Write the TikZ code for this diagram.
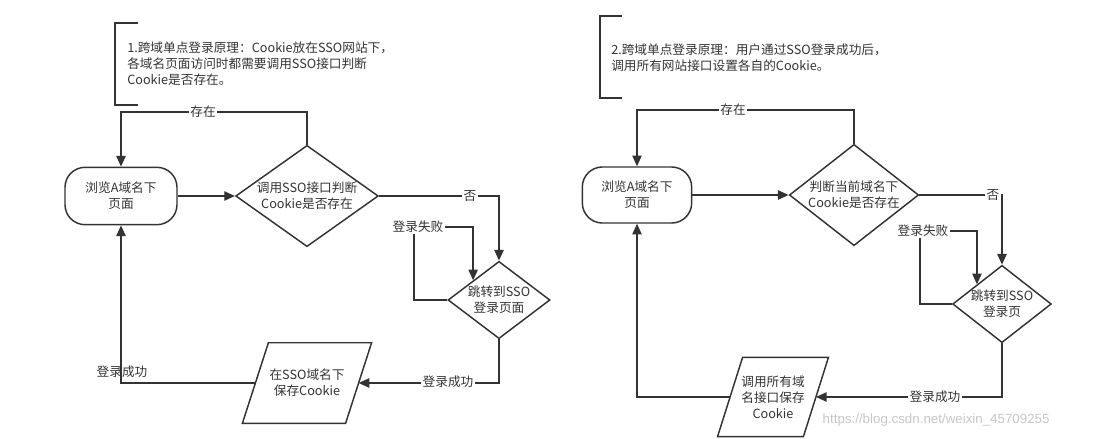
\documentclass[tikz,border=0pt]{standalone}
\usepackage{fontspec}
\setmainfont{Noto Sans CJK SC}
\newfontfamily\wmfont{Liberation Sans}
\usetikzlibrary{shapes.geometric,arrows.meta,calc}
\definecolor{ln}{HTML}{333333}
\definecolor{tx}{HTML}{333333}
\begin{document}
\begin{tikzpicture}[x=0.75pt,y=-0.75pt,
  every node/.style={font=\fontsize{9.5pt}{12pt}\selectfont,text=tx},
  shp/.style={draw=ln,line width=1.1pt,inner sep=0pt},
  rr/.style={shp,rectangle,rounded corners=15pt},
  dia/.style={shp,diamond},
  pbox/.style={rectangle,inner sep=0pt},
  txt/.style={align=center,inner sep=0pt},
  lab/.style={fill=white,inner sep=1pt},
  con/.style={draw=ln,line width=1.1pt},
  arr/.style={con,-{Triangle[length=8pt,width=7pt]}},
  brk/.style={draw=ln,line width=1.1pt}]
\useasboundingbox (0,0) rectangle (1108,439);
% ---------- left diagram ----------
\coordinate (b1a) at (138,23); \coordinate (b1b) at (115,23);
\coordinate (b1c) at (115,105); \coordinate (b1d) at (138,105);
\draw[brk] (b1a) -- (b1b) -- (b1c) -- (b1d);
\node[txt,anchor=west,align=left] (n1) at (127,64) {1.跨域单点登录原理：Cookie放在SSO网站下，\\各域名页面访问时都需要调用SSO接口判断\\Cookie是否存在。};
\node[rr,minimum width=84pt,minimum height=43pt] (r1) at (121,196) {};
\node[txt] (r1t) at (r1) {浏览A域名下\\页面};
\node[dia,minimum width=107pt,minimum height=76pt] (d1) at (307,196) {};
\node[txt] (d1t) at (d1) {调用SSO接口判断\\Cookie是否存在};
\node[dia,minimum width=76.5pt,minimum height=58pt] (d2) at (499,300) {};
\node[txt] (d2t) at (d2) {跳转到SSO\\登录页面};
\node[pbox,minimum width=77pt,minimum height=60pt] (p1) at (307,383) {};
\draw[con] ($(p1.north west)+(13,0)$) -- ($(p1.north east)+(13,0)$) -- ($(p1.south east)+(-13,0)$) -- ($(p1.south west)+(-13,0)$) -- cycle;
\node[txt] (p1t) at (p1) {在SSO域名下\\保存Cookie};
\coordinate (t1) at (307,112);
\coordinate (f1a) at (414,300); \coordinate (f1b) at (414,227);
\draw[arr] (r1) -- (d1);
\draw[arr] (d1.north) -- (t1) -| (r1.north);
\node[lab] (l1) at (203,112) {存在};
\draw[arr] (d1.east) -| (d2.north);
\node[lab] (l2) at (470,196) {否};
\draw[arr] (d2.west) -- (f1a) -- (f1b) -| (d2.north west);
\node[lab] (l3) at (418,227) {登录失败};
\draw[arr] (d2.south) |- (p1.east);
\node[lab] (l4) at (448,382) {登录成功};
\draw[arr] (p1.west) -| (r1.south);
\node (l5) at (122,372) {登录成功};
% ---------- right diagram ----------
\coordinate (b2a) at (622,16); \coordinate (b2b) at (600,16);
\coordinate (b2c) at (600,98); \coordinate (b2d) at (622,98);
\draw[brk] (b2a) -- (b2b) -- (b2c) -- (b2d);
\node[txt,anchor=west,align=left] (n2) at (611,58) {2.跨域单点登录原理：用户通过SSO登录成功后，\\调用所有网站接口设置各自的Cookie。};
\node[rr,minimum width=82pt,minimum height=42pt] (r2) at (637,195) {};
\node[txt] (r2t) at (r2) {浏览A域名下\\页面};
\node[dia,minimum width=97pt,minimum height=76pt] (e1) at (854,195) {};
\node[txt] (e1t) at (e1) {判断当前域名下\\Cookie是否存在};
\node[dia,minimum width=74pt,minimum height=58pt] (e2) at (1002,304) {};
\node[txt] (e2t) at (e2) {跳转到SSO\\登录页};
\node[pbox,minimum width=64pt,minimum height=59pt] (p2) at (773,397) {};
\draw[con] ($(p2.north west)+(12.5,0)$) -- ($(p2.north east)+(12.5,0)$) -- ($(p2.south east)+(-12.5,0)$) -- ($(p2.south west)+(-12.5,0)$) -- cycle;
\node[txt] (p2t) at (p2) {调用所有域\\名接口保存\\Cookie};
\coordinate (t2) at (854,110);
\coordinate (f2a) at (920,304); \coordinate (f2b) at (920,231);
\draw[arr] (r2) -- (e1);
\draw[arr] (e1.north) -- (t2) -| (r2.north);
\node[lab] (m1) at (733,110) {存在};
\draw[arr] (e1.east) -| (e2.north);
\node[lab] (m2) at (993,195) {否};
\draw[arr] (e2.west) -- (f2a) -- (f2b) -| (e2.north west);
\node[lab] (m3) at (923,231) {登录失败};
\draw[arr] (e2.south) |- (p2.east);
\node[lab] (m4) at (935,397) {登录成功};
\draw[arr] (p2.west) -| (r2.south);
\node[text=gray!45,font=\wmfont\fontsize{10pt}{12pt}\selectfont,anchor=west] (wm) at (818,420) {https://blog.csdn.net/weixin\_45709255};
\end{tikzpicture}
\end{document}
